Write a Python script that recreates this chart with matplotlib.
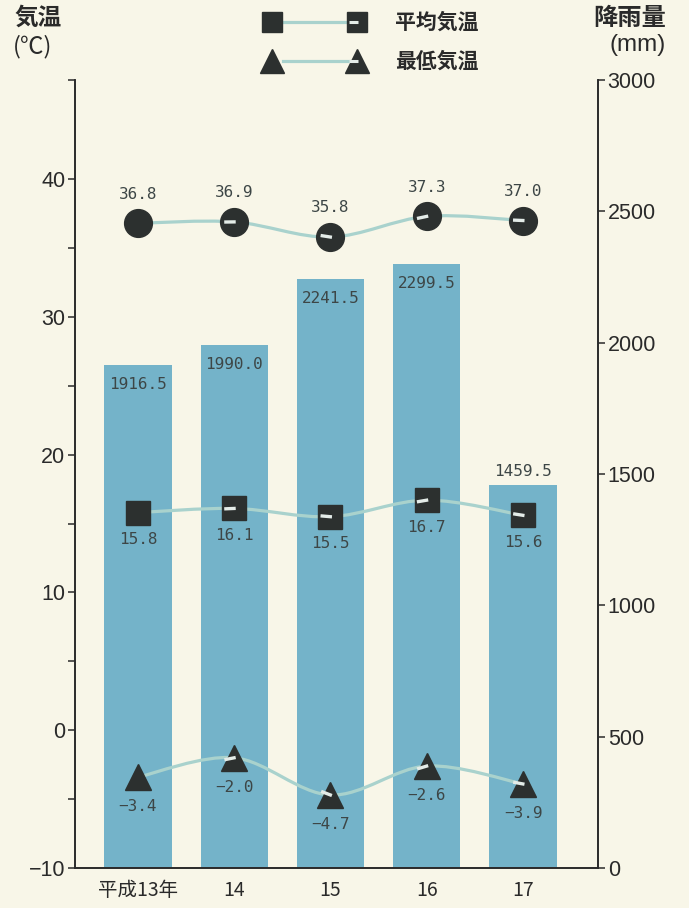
import numpy as np
import matplotlib
matplotlib.use('Agg')
from matplotlib import pyplot as plt
from matplotlib.path import Path
from matplotlib.patches import PathPatch
from matplotlib.lines import Line2D

plt.rcParams['font.family'] = ['Liberation Sans', 'Noto Sans CJK JP', 'DejaVu Sans']

# data
years = ['平成13年', '14', '15', '16', '17']
rain = [1916.5, 1990.0, 2241.5, 2299.5, 1459.5]
t_max = [36.8, 36.9, 35.8, 37.3, 37.0]
t_avg = [15.8, 16.1, 15.5, 16.7, 15.6]
t_min = [-3.4, -2.0, -4.7, -2.6, -3.9]
rain_label_inside = [True, True, True, True, False]

BG = '#f8f6e8'
BAR = '#74b3c9'
MARK = '#2c302f'
LINE = '#a9d2cd'
TICKW = '#e4ece8'
INK = '#2a2a2a'
LBL = '#3d4646'
JP = ['Noto Sans CJK JP', 'DejaVu Sans']
NUM = ['DejaVu Sans Mono']

W, H = 689, 908
fig = plt.figure(figsize=(W / 100, H / 100), dpi=100, facecolor=BG)
ax = fig.add_axes([75 / W, 40 / H, 523 / W, 788 / H])
ax2 = ax.twinx()
ax.set_zorder(ax2.get_zorder() + 1)
ax.patch.set_visible(False)
ax2.set_facecolor(BG)

x = np.arange(len(years))
ax.set_xlim(-0.654, 4.779)
ax.set_ylim(-10, 47.2)
ax2.set_ylim(0, 3000)

# rainfall bars (right axis)
ax2.bar(x, rain, width=0.7, color=BAR, zorder=1)
for xi, v, inside in zip(x, rain, rain_label_inside):
    off = -14 if inside else 9.5
    ax2.annotate(f'{v:.1f}', (xi, v), xytext=(0, off), textcoords='offset points',
                 ha='center', va='center', fontsize=11.5, family=NUM, color=LBL)


def smooth_path(xs, ys):
    # catmull-rom through the points, drawn as cubic bezier segments
    pts = np.column_stack([xs, ys]).astype(float)
    n = len(pts)
    verts = [pts[0]]
    codes = [Path.MOVETO]
    for i in range(n - 1):
        p0 = pts[i - 1] if i > 0 else pts[i]
        p1, p2 = pts[i], pts[i + 1]
        p3 = pts[i + 2] if i + 2 < n else pts[i + 1]
        c1 = p1 + (p2 - p0) / 6.0
        c2 = p2 - (p3 - p1) / 6.0
        verts += [c1, c2, p2]
        codes += [Path.CURVE4] * 3
    return Path(verts, codes)


def white_ticks(xs, ys, length=10):
    # short light stroke inside each marker, pointing back to the previous point
    pts = ax.transData.transform(np.column_stack([xs, ys]))
    inv = ax.transData.inverted()
    for i in range(1, len(pts)):
        d = pts[i] - pts[i - 1]
        d = d / np.hypot(*d)
        a = inv.transform(pts[i] + d * 1.5)
        b = inv.transform(pts[i] - d * length)
        ax.plot([a[0], b[0]], [a[1], b[1]], color=TICKW, lw=2.4,
                solid_capstyle='butt', zorder=6)


series = [(t_max, 'o', 20, 21), (t_avg, 's', 17, -19.5), (t_min, '^', 19, -21.5)]
for vals, mk, ms, off in series:
    ax.add_patch(PathPatch(smooth_path(x, vals), fill=False, edgecolor=LINE, lw=2.3, zorder=3))
    ax.plot(x, vals, ls='none', marker=mk, ms=ms, color=MARK, zorder=5)
    white_ticks(x, vals)
    for xi, v in zip(x, vals):
        ax.annotate(f'{v:.1f}'.replace('-', '−'), (xi, v), xytext=(0, off),
                    textcoords='offset points', ha='center', va='center',
                    fontsize=11.5, family=NUM, color=LBL, zorder=7)

# axes styling
for a in (ax, ax2):
    a.spines['top'].set_visible(False)
    for s in ('left', 'right', 'bottom'):
        a.spines[s].set_color(INK)
        a.spines[s].set_linewidth(1.2)

ax.set_yticks([-10, 0, 10, 20, 30, 40])
ax.set_yticks([-5, 5, 15, 25, 35, 47.2], minor=True)
ax.tick_params(axis='y', which='both', direction='out', length=5, width=1.1,
               color=INK, labelsize=15.5, labelcolor=INK, pad=2)
ax.set_yticklabels(['−10', '0', '10', '20', '30', '40'])
ax2.set_yticks(np.arange(0, 3001, 500))
ax2.tick_params(axis='y', direction='out', length=5, width=1.1, color=INK,
                labelsize=15.5, labelcolor=INK, pad=2)
ax.set_xticks(x)
ax.set_xticklabels(years, family=JP, fontsize=14, color=INK)
ax.tick_params(axis='x', length=0, pad=9)
ax2.tick_params(axis='x', length=0)

# axis titles
fig.text(14 / W, 1 - 18 / H, '気温', family=JP, fontsize=17, weight='bold',
         color=INK, ha='left', va='center')
fig.text(13 / W, 1 - 47 / H, '(℃)', family=JP, fontsize=17,
         color=INK, ha='left', va='center')
fig.text(630 / W, 1 - 18 / H, '降雨量', family=JP, fontsize=17.5, weight='bold',
         color=INK, ha='center', va='center')
fig.text(638 / W, 1 - 45 / H, '(mm)', family=['Liberation Sans', 'DejaVu Sans'],
         fontsize=17.5, color=INK, ha='center', va='center')

# legend drawn by hand at the top
tf = fig.transFigure
for mk, ms, yy, name in [('s', 15, 22, '平均気温'), ('^', 17, 61, '最低気温')]:
    fy = 1 - yy / H
    fig.add_artist(Line2D([283 / W, 350 / W], [fy, fy], transform=tf, color=LINE, lw=2.3))
    fig.add_artist(Line2D([272 / W, 357 / W], [fy, fy], transform=tf, ls='none',
                          marker=mk, ms=ms, color=MARK))
    fig.add_artist(Line2D([349 / W, 358 / W], [fy, fy], transform=tf, color=TICKW,
                          lw=2.2, solid_capstyle='butt'))
    fig.text(395 / W, fy, name, family=JP, fontsize=15, weight='bold', color=INK,
             ha='left', va='center')

fig.savefig('out.png', dpi=100, facecolor=BG)
